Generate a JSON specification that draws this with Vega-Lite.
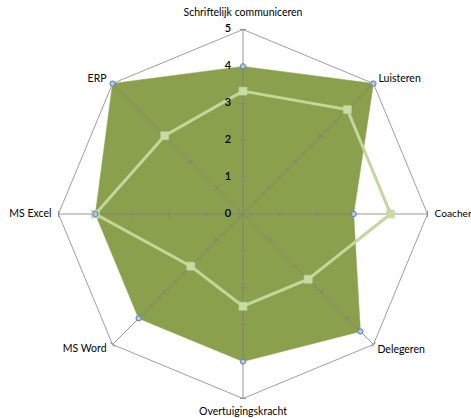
{
  "$schema": "https://vega.github.io/schema/vega-lite/v6.json",
  "width": 471,
  "height": 418,
  "autosize": "none",
  "padding": 0,
  "background": "white",
  "config": {"view": {"stroke": null}, "text": {"font": "Lato", "fontSize": 10.5, "color": "#000000"}},
  "datasets": {
    "axes": [
      {"axis": "Schriftelijk communiceren", "idx": 0, "dark": 4, "light": 3.33},
      {"axis": "Luisteren", "idx": 1, "dark": 5, "light": 4},
      {"axis": "Coacher", "idx": 2, "dark": 3, "light": 4},
      {"axis": "Delegeren", "idx": 3, "dark": 4.5, "light": 2.5},
      {"axis": "Overtuigingskracht", "idx": 4, "dark": 4, "light": 2.5},
      {"axis": "MS Word", "idx": 5, "dark": 4, "light": 2},
      {"axis": "MS Excel", "idx": 6, "dark": 4, "light": 4},
      {"axis": "ERP", "idx": 7, "dark": 5, "light": 3}
    ],
    "spokes": [
      {"idx": 0, "t": [1, 2, 3, 4, 5]},
      {"idx": 1, "t": [1, 2, 3, 4, 5]},
      {"idx": 2, "t": [1, 2, 3, 4, 5]},
      {"idx": 3, "t": [1, 2, 3, 4, 5]},
      {"idx": 4, "t": [1, 2, 3, 4, 5]},
      {"idx": 5, "t": [1, 2, 3, 4, 5]},
      {"idx": 6, "t": [1, 2, 3, 4, 5]},
      {"idx": 7, "t": [1, 2, 3, 4, 5]}
    ],
    "scale": [{"t": 0}, {"t": 1}, {"t": 2}, {"t": 3}, {"t": 4}, {"t": 5}]
  },
  "data": {"name": "axes"},
  "transform": [
    {"calculate": "sin(datum.idx * PI / 4)", "as": "s"},
    {"calculate": "cos(datum.idx * PI / 4)", "as": "c"},
    {"calculate": "5 * datum.s", "as": "x5"},
    {"calculate": "5 * datum.c", "as": "y5"},
    {"calculate": "datum.dark * datum.s", "as": "xd"},
    {"calculate": "datum.dark * datum.c", "as": "yd"},
    {"calculate": "datum.light * datum.s", "as": "xl"},
    {"calculate": "datum.light * datum.c", "as": "yl"},
    {"calculate": "0", "as": "zero"}
  ],
  "layer": [
    {
      "mark": {"type": "line", "interpolate": "linear-closed", "stroke": "#a0a0a0", "strokeWidth": 1, "clip": false},
      "encoding": {
        "x": {"field": "x5", "type": "quantitative", "scale": {"domain": [-6.585, 6.179], "zero": false, "nice": false}, "axis": null},
        "y": {"field": "y5", "type": "quantitative", "scale": {"domain": [-5.528, 5.799], "zero": false, "nice": false}, "axis": null},
        "order": {"field": "idx", "type": "quantitative"}
      }
    },
    {
      "mark": {"type": "line", "interpolate": "linear-closed", "fill": "#8aa04c", "fillOpacity": 1, "stroke": "#8aa04c", "strokeWidth": 0.5},
      "encoding": {
        "x": {"field": "xd", "type": "quantitative"},
        "y": {"field": "yd", "type": "quantitative"},
        "order": {"field": "idx", "type": "quantitative"}
      }
    },
    {
      "mark": {"type": "rule", "stroke": "#7f7f7f", "strokeOpacity": 0.8, "strokeWidth": 1},
      "encoding": {
        "x": {"field": "zero", "type": "quantitative"},
        "y": {"field": "zero", "type": "quantitative"},
        "x2": {"field": "x5"},
        "y2": {"field": "y5"}
      }
    },
    {
      "data": {"name": "spokes"},
      "transform": [
        {"flatten": ["t"]},
        {"calculate": "datum.t * sin(datum.idx * PI / 4)", "as": "xt"},
        {"calculate": "datum.t * cos(datum.idx * PI / 4)", "as": "yt"},
        {"calculate": "datum.idx * 45", "as": "deg"}
      ],
      "mark": {"type": "point", "shape": "stroke", "size": 36, "stroke": "#7f7f7f", "strokeOpacity": 0.8, "strokeWidth": 1, "filled": false, "opacity": 1},
      "encoding": {
        "x": {"field": "xt", "type": "quantitative"},
        "y": {"field": "yt", "type": "quantitative"},
        "angle": {"field": "deg", "type": "quantitative", "scale": null}
      }
    },
    {
      "mark": {"type": "line", "interpolate": "linear-closed", "stroke": "#c3d69b", "strokeWidth": 3},
      "encoding": {
        "x": {"field": "xl", "type": "quantitative"},
        "y": {"field": "yl", "type": "quantitative"},
        "order": {"field": "idx", "type": "quantitative"}
      }
    },
    {
      "mark": {"type": "point", "shape": "square", "size": 64, "filled": true, "fill": "#c6dba6", "opacity": 1, "stroke": "#c3d69b", "strokeWidth": 0.5},
      "encoding": {
        "x": {"field": "xl", "type": "quantitative"},
        "y": {"field": "yl", "type": "quantitative"}
      }
    },
    {
      "mark": {"type": "point", "shape": "circle", "size": 28, "filled": true, "fill": "#b3c8e2", "stroke": "#4f81bd", "strokeWidth": 1, "opacity": 1},
      "encoding": {
        "x": {"field": "xd", "type": "quantitative"},
        "y": {"field": "yd", "type": "quantitative"}
      }
    },
    {
      "data": {"name": "scale"},
      "transform": [{"calculate": "0", "as": "zero"}],
      "mark": {"type": "text", "align": "center", "baseline": "middle", "dx": -15, "fontSize": 11, "fontWeight": 600},
      "encoding": {
        "x": {"field": "zero", "type": "quantitative"},
        "y": {"field": "t", "type": "quantitative"},
        "text": {"field": "t", "type": "quantitative"}
      }
    },
    {
      "transform": [{"filter": "datum.idx == 0"}],
      "mark": {"type": "text", "align": "center", "baseline": "middle", "dy": -16},
      "encoding": {"x": {"field": "x5", "type": "quantitative"}, "y": {"field": "y5", "type": "quantitative"}, "text": {"field": "axis", "type": "nominal"}}
    },
    {
      "transform": [{"filter": "datum.idx == 4"}],
      "mark": {"type": "text", "align": "center", "baseline": "middle", "dy": 13},
      "encoding": {"x": {"field": "x5", "type": "quantitative"}, "y": {"field": "y5", "type": "quantitative"}, "text": {"field": "axis", "type": "nominal"}}
    },
    {
      "transform": [{"filter": "datum.idx == 1"}],
      "mark": {"type": "text", "align": "left", "baseline": "middle", "dx": 5, "dy": -5},
      "encoding": {"x": {"field": "x5", "type": "quantitative"}, "y": {"field": "y5", "type": "quantitative"}, "text": {"field": "axis", "type": "nominal"}}
    },
    {
      "transform": [{"filter": "datum.idx == 2"}],
      "mark": {"type": "text", "align": "left", "baseline": "middle", "dx": 7, "fontSize": 10.2},
      "encoding": {"x": {"field": "x5", "type": "quantitative"}, "y": {"field": "y5", "type": "quantitative"}, "text": {"field": "axis", "type": "nominal"}}
    },
    {
      "transform": [{"filter": "datum.idx == 3"}],
      "mark": {"type": "text", "align": "left", "baseline": "middle", "dx": 4, "dy": 6},
      "encoding": {"x": {"field": "x5", "type": "quantitative"}, "y": {"field": "y5", "type": "quantitative"}, "text": {"field": "axis", "type": "nominal"}}
    },
    {
      "transform": [{"filter": "datum.idx == 5"}],
      "mark": {"type": "text", "align": "right", "baseline": "middle", "dx": -6, "dy": 5},
      "encoding": {"x": {"field": "x5", "type": "quantitative"}, "y": {"field": "y5", "type": "quantitative"}, "text": {"field": "axis", "type": "nominal"}}
    },
    {
      "transform": [{"filter": "datum.idx == 6"}],
      "mark": {"type": "text", "align": "right", "baseline": "middle", "dx": -7},
      "encoding": {"x": {"field": "x5", "type": "quantitative"}, "y": {"field": "y5", "type": "quantitative"}, "text": {"field": "axis", "type": "nominal"}}
    },
    {
      "transform": [{"filter": "datum.idx == 7"}],
      "mark": {"type": "text", "align": "right", "baseline": "middle", "dx": -6, "dy": -5},
      "encoding": {"x": {"field": "x5", "type": "quantitative"}, "y": {"field": "y5", "type": "quantitative"}, "text": {"field": "axis", "type": "nominal"}}
    }
  ]
}
